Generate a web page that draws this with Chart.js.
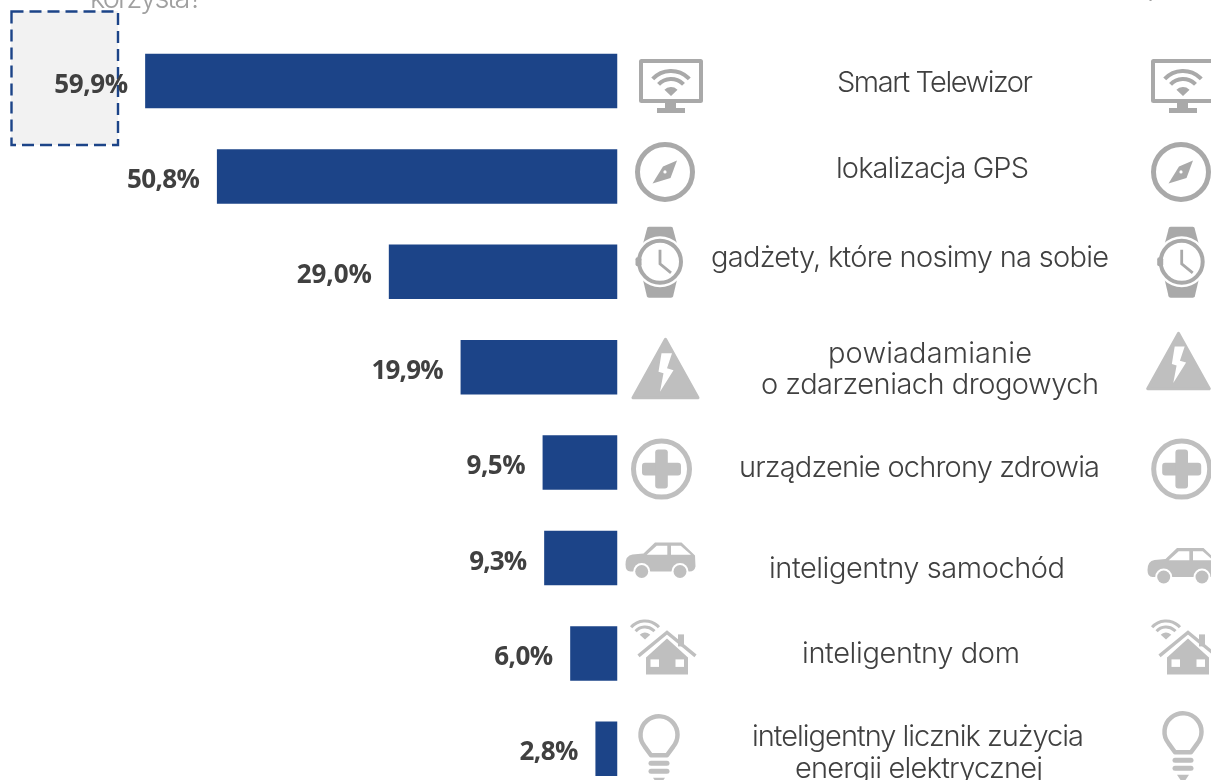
<!DOCTYPE html>
<html lang="pl">
<head>
    <meta charset="UTF-8">
    <title>Internet rzeczy</title>
    <script src="https://cdn.jsdelivr.net/npm/chart.js"></script>
    <style>
        html, body { margin: 0; padding: 0; background: #fff; overflow: hidden; }
        canvas { display: block; }
    </style>
</head>
<body>
    <canvas id="iotChart" width="1211" height="800"></canvas>
    <script>
        const categories = ['Smart Telewizor', 'lokalizacja GPS', 'gadżety, które nosimy na sobie', 'powiadamianie o zdarzeniach drogowych',
            'urządzenie ochrony zdrowia', 'inteligentny samochód', 'inteligentny dom', 'inteligentny licznik zużycia energii elektrycznej'];
        const values = [59.9, 50.8, 29.0, 19.9, 9.5, 9.3, 6.0, 2.8];
        const valueLabels = ['59,9%', '50,8%', '29,0%', '19,9%', '9,5%', '9,3%', '6,0%', '2,8%'];
        const labelLines = [['Smart Telewizor'], ['lokalizacja GPS'], ['gadżety, które nosimy na sobie'], ['powiadamianie', 'o zdarzeniach drogowych'],
            ['urządzenie ochrony zdrowia'], ['inteligentny samochód'], ['inteligentny dom'], ['inteligentny licznik zużycia', 'energii elektrycznej']];

        // rozmieszczenie tekstu i ikon (po kolei jak kategorie)
        const labelCenterX = [[935], [932.5], [910], [930, 930], [919.5], [917], [911], [918, 919]];
        const labelWidths = [[196], [193], [398], [204, 338], [361], [296], [218], [332, 248]];
        const labelBaseDy = [10.5, 1.5, -4.5, -4.5, 14, 20, 10, -2.5];
        const valueWidths = [74, 73, 75, 72, 59, 58, 59, 59];
        const iconLeftX = [671, 665, 660, 665.5, 661.5, 660.5, 667, 659];
        const iconRightX = [1183, 1181, 1181.7, 1178.5, 1181.7, 1182.5, 1188, 1183];
        const iconLeftDy = [0, -4.5, -10, 1, 6.5, 2.5, 0, -14];
        const iconRightDy = [0, -4.5, -10, -6.5, 6.5, 8, 0, -17];
        const iconRightScale = [1, 1, 1, 0.95, 1, 1, 1, 1];

        const BLUE = '#1c4488';
        const TEXT = '#404040';
        const GREY_A = '#a9a9a9';
        const GREY_B = '#bfbfbf';

        function roundBox(ctx, x, y, w, h, r) {
            ctx.beginPath();
            ctx.roundRect(x, y, w, h, r);
            ctx.fill();
        }

        function poly(ctx, pts) {
            ctx.beginPath();
            pts.forEach((p, i) => i ? ctx.lineTo(p[0], p[1]) : ctx.moveTo(p[0], p[1]));
            ctx.closePath();
            ctx.fill();
        }

        function wifi(ctx, x, y, r1, r2, r3, lw, half) {
            ctx.lineWidth = lw;
            [r1, r2].forEach(r => {
                ctx.beginPath();
                ctx.arc(x, y, r, -Math.PI / 2 - half, -Math.PI / 2 + half);
                ctx.stroke();
            });
            ctx.beginPath();
            ctx.moveTo(x, y);
            ctx.arc(x, y, r3, -Math.PI / 2 - half, -Math.PI / 2 + half);
            ctx.closePath();
            ctx.fill();
        }

        // ikony: kazda rysowana wokol punktu (0,0)
        const icons = [
            function monitor(ctx) {
                ctx.fillStyle = ctx.strokeStyle = GREY_A;
                roundBox(ctx, -32, -22, 64, 44, 2.5);
                ctx.fillStyle = '#fff';
                ctx.fillRect(-28, -18, 56, 36);
                ctx.fillStyle = GREY_A;
                ctx.fillRect(-6, 22, 11, 6);
                ctx.fillRect(-14, 27, 28, 5);
                wifi(ctx, 0, 15, 25, 17, 9, 4, 0.82);
            },
            function compass(ctx) {
                ctx.strokeStyle = ctx.fillStyle = GREY_A;
                ctx.lineWidth = 5;
                ctx.beginPath();
                ctx.arc(0, 0, 27.5, 0, Math.PI * 2);
                ctx.stroke();
                poly(ctx, [[12, -11.5], [5.5, 6], [-12.5, 11.5], [-2, -5.5]]);
                ctx.fillStyle = '#fff';
                ctx.beginPath();
                ctx.arc(0, 0, 1.6, 0, Math.PI * 2);
                ctx.fill();
            },
            function watch(ctx) {
                ctx.fillStyle = ctx.strokeStyle = GREY_A;
                roundBox(ctx, -13, -35, 26, 12, 2);
                poly(ctx, [[-13, -33], [13, -33], [17, -18], [-17, -18]]);
                poly(ctx, [[-17, 18], [17, 18], [13, 35], [-13, 35]]);
                roundBox(ctx, -13, 24, 26, 12, 2);
                ctx.fillStyle = '#fff';
                ctx.beginPath();
                ctx.arc(0, 0, 25.5, 0, Math.PI * 2);
                ctx.fill();
                ctx.fillStyle = GREY_A;
                roundBox(ctx, -24.5, -4.5, 6, 9, 2);
                ctx.lineWidth = 4;
                ctx.beginPath();
                ctx.arc(0, 0, 21, 0, Math.PI * 2);
                ctx.stroke();
                ctx.lineWidth = 2.8;
                ctx.beginPath();
                ctx.moveTo(0, -12);
                ctx.lineTo(0, 2);
                ctx.lineTo(11, 11);
                ctx.stroke();
            },
            function warning(ctx) {
                ctx.fillStyle = ctx.strokeStyle = GREY_B;
                ctx.lineWidth = 3;
                ctx.lineJoin = 'round';
                ctx.beginPath();
                ctx.moveTo(0, -29);
                ctx.lineTo(32.5, 29.5);
                ctx.lineTo(-32.5, 29.5);
                ctx.closePath();
                ctx.fill();
                ctx.stroke();
                ctx.fillStyle = '#fff';
                poly(ctx, [[-4, -15], [6.5, -15], [1.5, 0], [8, 2], [-5.5, 23.5], [-2, 5], [-7, 3.5]]);
            },
            function health(ctx) {
                ctx.strokeStyle = ctx.fillStyle = GREY_B;
                ctx.lineWidth = 5;
                ctx.beginPath();
                ctx.arc(0, 0, 28, 0, Math.PI * 2);
                ctx.stroke();
                roundBox(ctx, -19.5, -6.3, 39, 12.6, 3);
                roundBox(ctx, -6.3, -19.5, 12.6, 39, 3);
            },
            function car(ctx) {
                ctx.fillStyle = GREY_B;
                ctx.lineJoin = 'round';
                ctx.beginPath();
                ctx.moveTo(-35, 4);
                ctx.quadraticCurveTo(-35, -5, -28, -6);
                ctx.lineTo(-17, -7);
                ctx.lineTo(-5.5, -18);
                ctx.lineTo(21, -18);
                ctx.lineTo(34.5, -5);
                ctx.lineTo(35, 6);
                ctx.quadraticCurveTo(34, 11, 29, 11);
                ctx.lineTo(-30, 11);
                ctx.quadraticCurveTo(-35, 11, -35, 4);
                ctx.closePath();
                ctx.fill();
                ctx.fillStyle = '#fff';
                poly(ctx, [[-13.8, -5.8], [-3.8, -14.8], [6.8, -14.8], [6.8, -5.8]]);
                poly(ctx, [[10.5, -14.8], [20.2, -14.8], [30.5, -5.8], [10.5, -5.8]]);
                [-18.8, 19.5].forEach(x => {
                    ctx.fillStyle = '#fff';
                    ctx.beginPath();
                    ctx.arc(x, 11, 8.5, 0, Math.PI * 2);
                    ctx.fill();
                    ctx.fillStyle = GREY_B;
                    ctx.beginPath();
                    ctx.arc(x, 11, 6.5, 0, Math.PI * 2);
                    ctx.fill();
                });
            },
            function house(ctx) {
                ctx.strokeStyle = ctx.fillStyle = GREY_B;
                ctx.fillRect(11, -19, 6, 12);
                poly(ctx, [[-21, 4], [0, -15], [21, 4], [21, 21], [-21, 21]]);
                ctx.lineWidth = 3.4;
                ctx.beginPath();
                ctx.moveTo(-28.5, 2.5);
                ctx.lineTo(0, -21);
                ctx.lineTo(28.5, 2.5);
                ctx.stroke();
                ctx.fillStyle = '#fff';
                ctx.fillRect(-16.5, 6, 8.5, 7.5);
                ctx.fillRect(8.5, 6, 8.5, 7.5);
                ctx.fillStyle = GREY_B;
                wifi(ctx, -22, -14, 18.5, 12.5, 7, 3, 0.85);
            },
            function bulb(ctx) {
                ctx.strokeStyle = ctx.fillStyle = GREY_B;
                ctx.lineWidth = 4.5;
                ctx.lineJoin = 'round';
                ctx.beginPath();
                ctx.arc(0, 0, 18.5, Math.PI * 0.78, Math.PI * 0.22);
                ctx.lineTo(8, 20.5);
                ctx.lineTo(-8, 20.5);
                ctx.closePath();
                ctx.stroke();
                roundBox(ctx, -10.5, 26, 21, 5, 2.5);
                roundBox(ctx, -10.5, 34, 21, 5, 2.5);
                poly(ctx, [[-6, 43], [6, 43], [2, 49], [-2, 49]]);
            }
        ];

        function fitText(ctx, text, left, y, width) {
            ctx.letterSpacing = '0px';
            const w = ctx.measureText(text).width;
            ctx.letterSpacing = ((width - w) / (text.length - 1)).toFixed(3) + 'px';
            ctx.textAlign = 'left';
            ctx.fillText(text, left, y);
            ctx.letterSpacing = '0px';
        }

        // ramka z tlem i fragmenty tekstu pytania nad wykresem
        const backdrop = {
            id: 'backdrop',
            beforeDatasetsDraw(chart) {
                const ctx = chart.ctx;
                ctx.save();
                ctx.fillStyle = '#f2f2f2';
                ctx.fillRect(11, 11, 107, 134);
                ctx.strokeStyle = BLUE;
                ctx.lineWidth = 2.4;
                ctx.setLineDash([12, 6]);
                ctx.strokeRect(11.5, 11.5, 106.5, 133.5);
                ctx.setLineDash([]);
                ctx.fillStyle = '#a0a0a0';
                ctx.font = '300 29px Inter';
                ctx.textBaseline = 'alphabetic';
                fitText(ctx, 'korzysta?', 90, 8, 113);
                fitText(ctx, '?', 1144, 1, 10);
                ctx.restore();
            }
        };

        // opisy przy slupkach, nazwy kategorii i ikony
        const overlays = {
            id: 'overlays',
            afterDatasetsDraw(chart) {
                const ctx = chart.ctx;
                const meta = chart.getDatasetMeta(0);
                const yScale = chart.scales.y;
                ctx.save();
                ctx.textBaseline = 'alphabetic';
                values.forEach((v, i) => {
                    const yc = yScale.getPixelForValue(i);
                    const barLeft = meta.data[i].x;
                    ctx.fillStyle = TEXT;
                    ctx.font = '700 26px "Open Sans"';
                    fitText(ctx, valueLabels[i], barLeft - 17 - valueWidths[i], yc + 11.5, valueWidths[i]);

                    ctx.font = '300 29px Inter';
                    ctx.fillStyle = TEXT;
                    labelLines[i].forEach((line, k) => {
                        const w = labelWidths[i][k];
                        fitText(ctx, line, labelCenterX[i][k] - w / 2, yc + labelBaseDy[i] + k * 31.5, w);
                    });

                    ctx.save();
                    ctx.translate(iconLeftX[i], yc + iconLeftDy[i]);
                    icons[i](ctx);
                    ctx.restore();
                    ctx.save();
                    ctx.translate(iconRightX[i], yc + iconRightDy[i]);
                    ctx.scale(iconRightScale[i], iconRightScale[i]);
                    icons[i](ctx);
                    ctx.restore();
                });
                ctx.restore();
            }
        };

        new Chart(document.getElementById('iotChart').getContext('2d'), {
            type: 'bar',
            data: {
                labels: categories,
                datasets: [{
                    data: values,
                    backgroundColor: BLUE,
                    barPercentage: 0.571,
                    categoryPercentage: 1
                }]
            },
            options: {
                indexAxis: 'y',
                responsive: false,
                animation: false,
                layout: { padding: { left: 65.5, right: 593.5, top: 33.3, bottom: 3.5 } },
                plugins: { legend: { display: false }, tooltip: { enabled: false } },
                scales: {
                    x: { reverse: true, min: 0, max: 70, display: false },
                    y: { display: false }
                }
            },
            plugins: [backdrop, overlays]
        });
    </script>
</body>
</html>
